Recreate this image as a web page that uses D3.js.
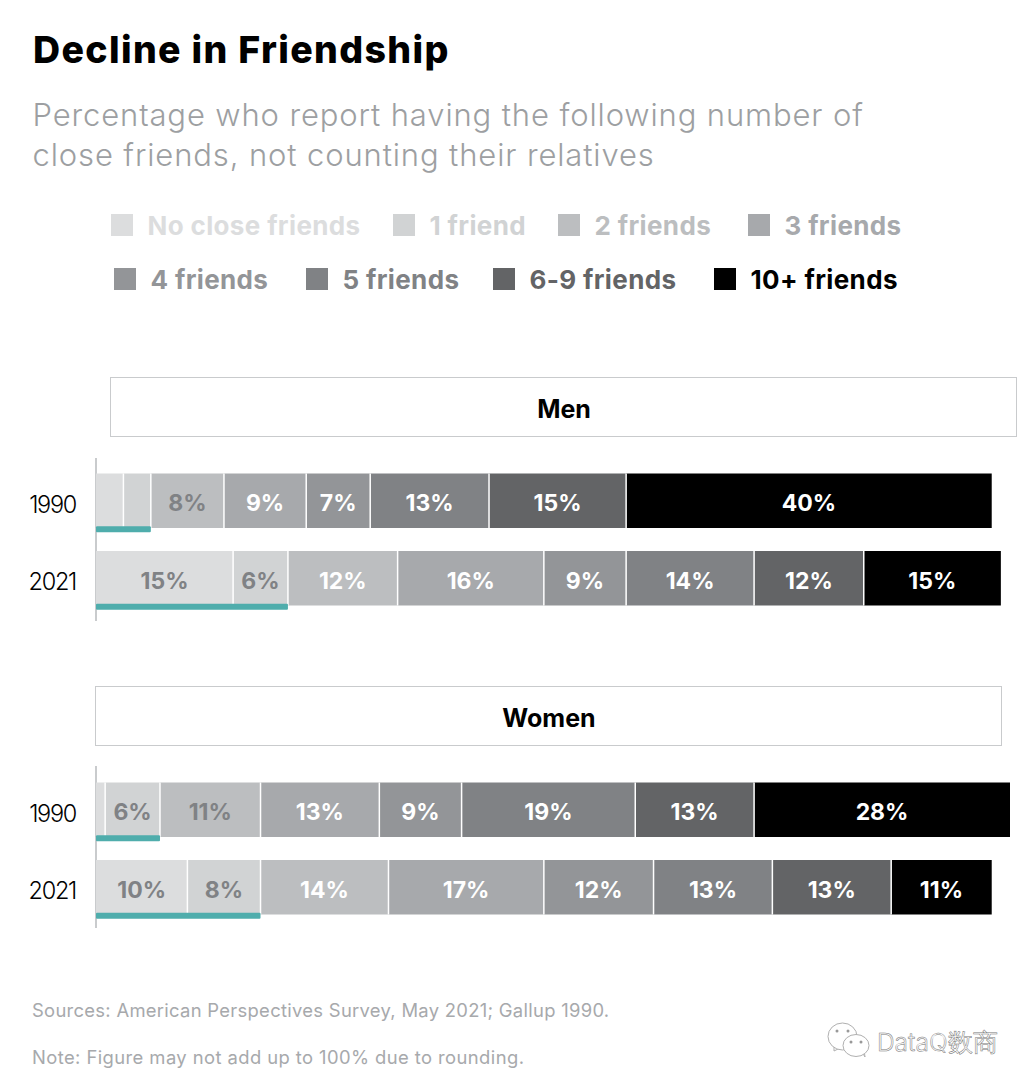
<!DOCTYPE html>
<html>
<head>
<meta charset="utf-8">
<script src="https://cdnjs.cloudflare.com/ajax/libs/d3/7.8.5/d3.min.js"></script>
<style>
  html, body { margin: 0; padding: 0; background: #fff; }
  svg { display: block; }
  text { font-family: "Inter", "Liberation Sans", sans-serif; }
</style>
</head>
<body>
<svg id="chart" width="1032" height="1088"></svg>
<script>
// Share of respondents in each friend-count bucket, in percent
const categories = ["No close friends", "1 friend", "2 friends", "3 friends", "4 friends", "5 friends", "6-9 friends", "10+ friends"];
const bucketColors = ["#dcddde", "#d1d3d4", "#bcbec0", "#a7a9ac", "#939598", "#808285", "#636466", "#000000"];
const years = ["1990", "2021"];
const men1990 = [3, 3, 8, 9, 7, 13, 15, 40];
const men2021 = [15, 6, 12, 16, 9, 14, 12, 15];
const women1990 = [1, 6, 11, 13, 9, 19, 13, 28];
const women2021 = [10, 8, 14, 17, 12, 13, 13, 11];
// Values too narrow to carry a printed label
const unlabeledBelow = 5;
// How many leading buckets take a dark label, per year
const darkLabelCount = { "1990": 3, "2021": 2 };

const panels = [
  { name: "Men", rows: [men1990, men2021], boxX: 110.5, boxW: 906, boxY: 377.5, top: 473.5, axisTop: 458, axisBottom: 621 },
  { name: "Women", rows: [women1990, women2021], boxX: 95.5, boxW: 906, boxY: 686.5, top: 782.5, axisTop: 766, axisBottom: 928 }
];

const svg = d3.select("#chart");
const x = d3.scaleLinear().domain([0, 100]).range([96, 1010]);
const rowStep = 77.5;
const barHeight = 54.5;

// Heading block
svg.append("text").attr("x", 33).attr("y", 62.5).attr("font-size", 37.5).attr("font-weight", 800)
  .attr("letter-spacing", 1.35).attr("fill", "#000").text("Decline in Friendship");
const subtitle = ["Percentage who report having the following number of", "close friends, not counting their relatives"];
svg.selectAll("text.sub").data(subtitle).join("text").attr("class", "sub")
  .attr("x", 32.5).attr("y", (d, i) => 126 + i * 40)
  .attr("font-size", 31).attr("font-weight", 300).attr("letter-spacing", 0.87).attr("fill", "#9d9fa2").text(d => d);

// Legend, laid out on two rows
const legendX = [111, 393, 558, 748, 114, 306, 493, 714];
const legendY = [225, 225, 225, 225, 279, 279, 279, 279];
const legendText = ["#dcddde", "#d1d3d4", "#bcbec0", "#a7a9ac", "#939598", "#808285", "#636466", "#000"];
const legend = svg.selectAll("g.legend").data(categories).join("g").attr("class", "legend")
  .attr("transform", (d, i) => `translate(${legendX[i]},${legendY[i]})`);
legend.append("rect").attr("x", 0).attr("y", -11).attr("width", 22).attr("height", 22)
  .attr("fill", (d, i) => bucketColors[i]);
legend.append("text").attr("x", 36.5).attr("y", 10).attr("font-size", 26).attr("font-weight", 700)
  .attr("letter-spacing", 0.36).attr("fill", (d, i) => legendText[i]).text(d => d);

// One boxed header and a pair of stacked bars per panel
panels.forEach(panel => {
  svg.append("rect").attr("x", panel.boxX).attr("y", panel.boxY).attr("width", panel.boxW).attr("height", 59)
    .attr("fill", "#fff").attr("stroke", "#c9cbcd").attr("stroke-width", 1);
  svg.append("text").attr("x", panel.boxX + panel.boxW / 2 + 0.5).attr("y", panel.boxY + 40)
    .attr("text-anchor", "middle").attr("font-size", 25).attr("font-weight", 700).attr("fill", "#000").text(panel.name);

  const y = d3.scalePoint().domain(years).range([panel.top, panel.top + rowStep]);
  svg.append("line").attr("x1", x(0)).attr("x2", x(0)).attr("y1", panel.axisTop).attr("y2", panel.axisBottom)
    .attr("stroke", "#c9cbcd").attr("stroke-width", 2);

  panel.rows.forEach((values, r) => {
    const year = years[r];
    const top = y(year);
    const stack = d3.cumsum(values);
    const cells = values.map((value, i) => ({ value, i, start: stack[i] - value, end: stack[i] }));
    const row = svg.append("g");
    row.selectAll("rect").data(cells).join("rect")
      .attr("x", d => x(d.start))
      .attr("y", top).attr("height", barHeight)
      .attr("width", d => x(d.end) - x(d.start))
      .attr("fill", d => bucketColors[d.i]);
    // Thin white separators between buckets
    row.selectAll("line").data(cells.slice(0, -1)).join("line")
      .attr("x1", d => x(d.end)).attr("x2", d => x(d.end))
      .attr("y1", top).attr("y2", top + barHeight)
      .attr("stroke", "#fff").attr("stroke-width", 1.5);
    // Teal underline spanning the two lowest buckets
    svg.append("rect").attr("x", x(0)).attr("y", top + barHeight - 1.8).attr("width", x(stack[1]) - x(0)).attr("height", 6)
      .attr("rx", 1).attr("fill", "#4fadac");
    row.selectAll("text").data(cells.filter(d => d.value > unlabeledBelow)).join("text")
      .attr("x", d => x((d.start + d.end) / 2))
      .attr("y", top + 37.5).attr("text-anchor", "middle").attr("font-size", 23).attr("font-weight", 700)
      .attr("fill", d => d.i < darkLabelCount[year] ? "#808285" : "#fff").text(d => d.value + "%");
    svg.append("text").attr("x", 76).attr("y", top + 39).attr("text-anchor", "end")
      .attr("font-size", 23.5).attr("font-weight", 300).attr("letter-spacing", -1.3).attr("fill", "#000").text(year);
  });
});

// Sources and note
const notes = ["Sources: American Perspectives Survey, May 2021; Gallup 1990.", "Note: Figure may not add up to 100% due to rounding."];
const noteSpacing = [0.3, 0.42];
svg.selectAll("text.note").data(notes).join("text").attr("class", "note")
  .attr("x", 32).attr("y", (d, i) => 1017 + i * 47).attr("font-size", 18.4).attr("font-weight", 400)
  .attr("letter-spacing", (d, i) => noteSpacing[i]).attr("fill", "#a7a9ac").text(d => d);

// Account mark in the lower right corner
const mark = svg.append("g").attr("fill", "#fff").attr("stroke", "#b0b0b0").attr("stroke-width", 1);
mark.append("path").attr("d", "M834 1046 l0 5 l6 -3");
mark.append("ellipse").attr("cx", 842.5).attr("cy", 1036.5).attr("rx", 14.5).attr("ry", 13.5);
mark.append("path").attr("d", "M862 1052 l3 5 l-1 -7");
mark.append("ellipse").attr("cx", 856).attr("cy", 1045.5).attr("rx", 13).attr("ry", 11);
const eyes = svg.append("g").attr("fill", "#999");
[[837, 1031], [848, 1031], [851, 1042], [861, 1042]].forEach(([cx, cy]) =>
  eyes.append("circle").attr("cx", cx).attr("cy", cy).attr("r", 1.5));
svg.append("text").attr("x", 877).attr("y", 1051).attr("font-size", 24.5).attr("font-weight", 300)
  .attr("font-family", "'Noto Sans CJK SC', sans-serif").attr("fill", "#fff").attr("stroke", "#777").attr("stroke-width", 0.5)
  .text("DataQ数商");
</script>
</body>
</html>
